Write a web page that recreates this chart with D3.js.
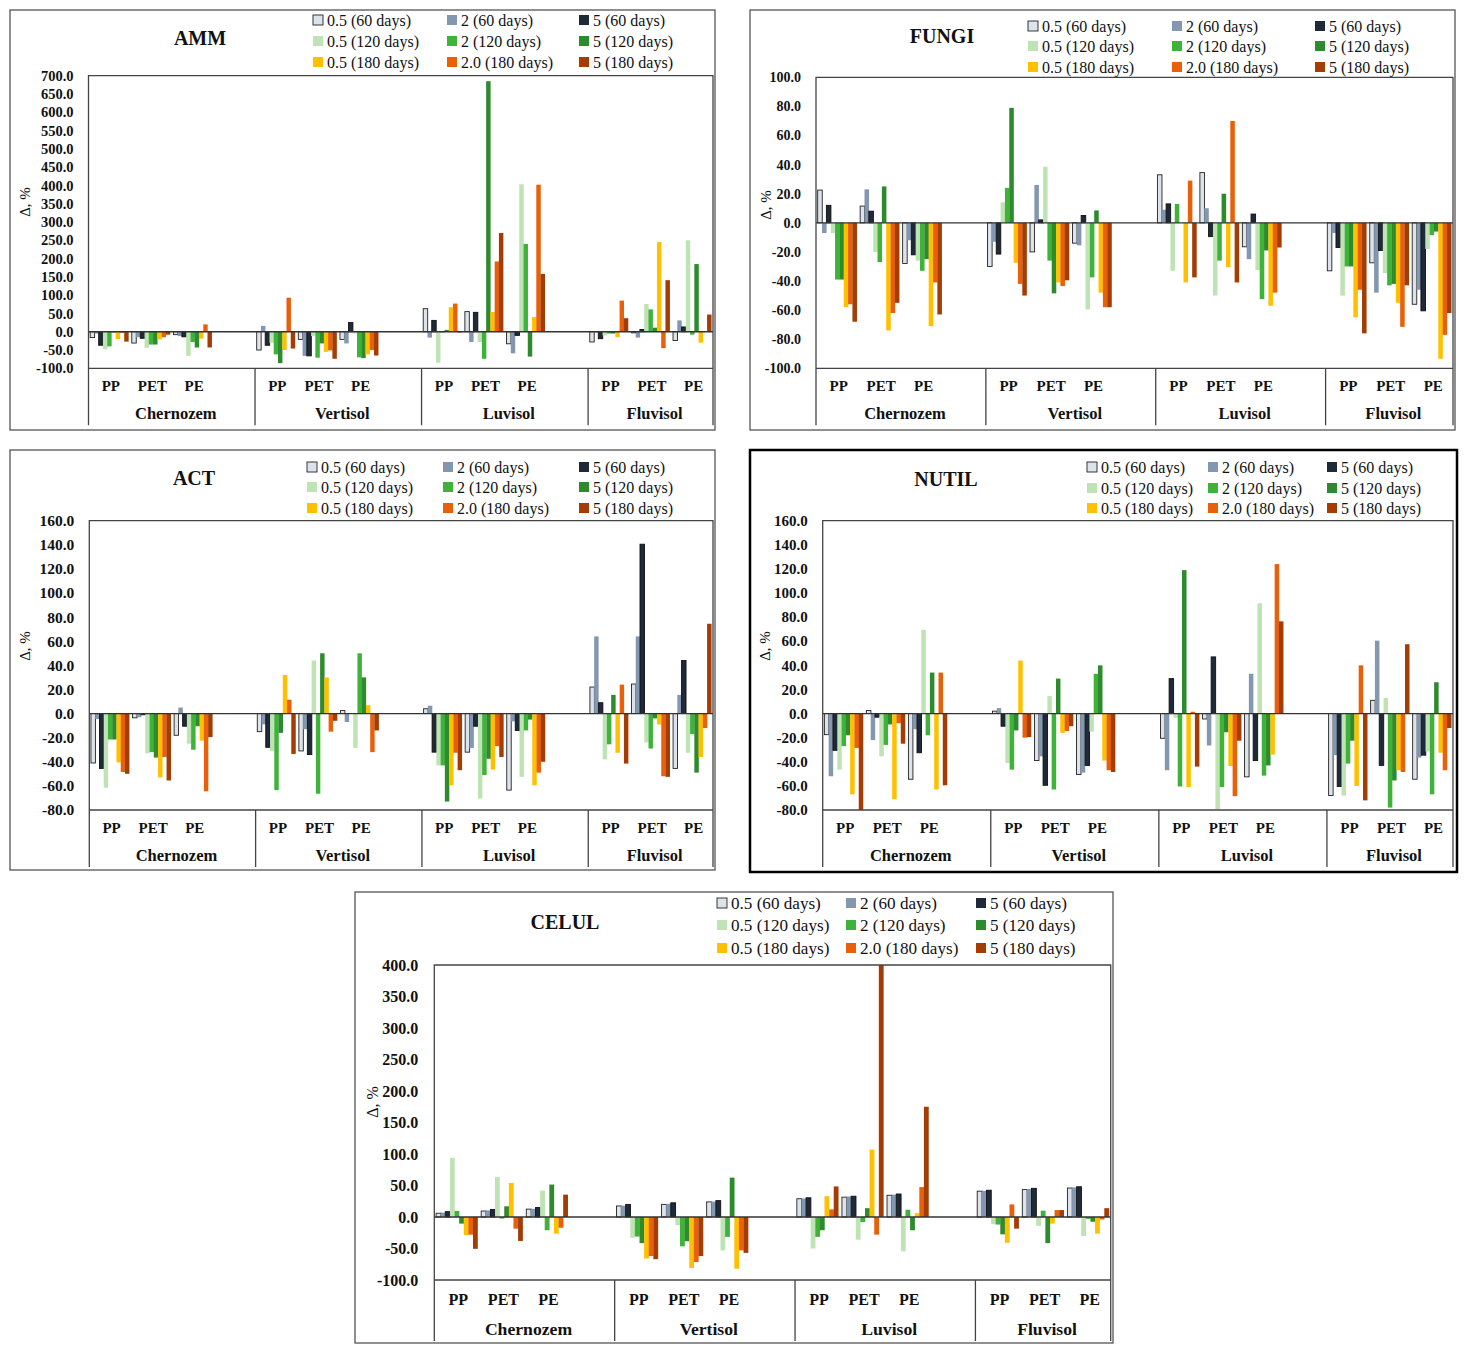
<!DOCTYPE html>
<html>
<head>
<meta charset="utf-8">
<script src="https://cdn.jsdelivr.net/npm/d3@7"></script>
<style>
  body { margin: 0; background: #fff; }
  svg { display: block; }
  text { font-family: "Palatino Linotype", "Book Antiqua", Palatino, "Liberation Serif", serif; fill: #111; }
</style>
</head>
<body>
<svg id="chart" width="1466" height="1353"></svg>
<script>
// categories
const soils = ["Chernozem", "Vertisol", "Luvisol", "Fluvisol"];
const plastics = ["PP", "PET", "PE"];
const seriesNames = ["0.5 (60 days)", "2 (60 days)", "5 (60 days)",
                     "0.5 (120 days)", "2 (120 days)", "5 (120 days)",
                     "0.5 (180 days)", "2.0 (180 days)", "5 (180 days)"];
const seriesColors = ["#dde3ea", "#8497b0", "#1f2a38",
                      "#bfe3b4", "#3fb23a", "#2d8a2d",
                      "#ffc000", "#e8600a", "#a33d05"];
const seriesStrokes = ["#222", null, "#111", null, null, null, null, null, null];

// values: one row per soil/plastic group (Chernozem PP, PET, PE, Vertisol PP ...), 9 series each
const ammValues = [
  [-16, -5, -37, -48, -40, -2, -20, -3, -27],
  [-31, -15, -18, -44, -35, -35, -21, -15, -8],
  [-8, -12, -14, -66, -28, -43, -19, 20, -43],
  [-50, 16, -37, -30, -62, -86, -50, 93, -46],
  [-21, -66, -66, -12, -71, -32, -55, -51, -74],
  [-21, -32, 25, -5, -70, -72, -62, -50, -65],
  [63, -16, 31, -85, -2, 5, 67, 77, -2],
  [55, -28, 53, -28, -74, 685, 54, 192, 270],
  [-33, -59, -10, 403, 240, -68, 40, 402, 158],
  [-28, -2, -19, -10, -5, -5, -15, 85, 37],
  [-3, -16, 6, 76, 61, 11, 245, -45, 141],
  [-24, 31, 13, 250, -8, 185, -30, 2, 47]
];
const fungiValues = [
  [22.5, -7, 12, -7, -39, -39, -58, -56, -68],
  [11.5, 23, 8, -20, -27, 25, -74, -62, -55],
  [-28, -12, -22, -26, -33, -25, -71, -41, -63],
  [-30, -13, -21.5, 14, 24, 79, -27.5, -42, -50],
  [-20, 26, 2, 38.5, -26, -48.5, -41, -43.5, -39.5],
  [-14, -15.5, 5, -59.5, -37.5, 8.5, -48, -58, -58],
  [33, 9, 13, -33, 13, 0, -41, 29, -37.5],
  [34.5, 10, -9.5, -50, -26, 20, -30.5, 70, -41],
  [-16.5, -25, 6, -32.5, -52.5, -19, -57, -48, -17],
  [-33, -7, -17, -50, -30, -30, -65, -46, -76],
  [-27.5, -48, -19, -34.5, -43, -42, -55, -71.5, -43],
  [-56, -46, -60.5, -18, -8.5, -6, -93.5, -77, -62]
];
const actValues = [
  [-41, -4.5, -45.5, -61.5, -21.5, -21.5, -40.5, -48.5, -50],
  [-3.5, -3, -1, -33, -32, -36.5, -53, -36, -55.5],
  [-18, 5, -10.5, -25, -30, -10.5, -22.5, -64.5, -19.5],
  [-15, -9, -28, -31, -63.5, -16, 32, 11.5, -33.5],
  [-31, -13, -34, 44, -66.5, 50, 30, -15, -6],
  [2.5, -7, 0, -28.5, 50, 30, 7, -32, -14],
  [4, 6.5, -32, -43, -43, -73, -59.5, -32.5, -47],
  [-32, -28.5, -10.5, -70.5, -51, -37.5, -46.5, -27, -36],
  [-63.5, -6.5, -14, -52.5, -14, -5, -59.5, -49, -40],
  [22, 64, 9, -38, -25.5, 15.5, -32.5, 24, -41.5],
  [24.5, 64, 140.5, -24, -29, -4, -9, -52, -52.5],
  [-45.5, 15.5, 44, -32.5, -17, -49, -36, -12, 74.5]
];
const nutilValues = [
  [-17.5, -52, -30.5, -46.5, -27, -18, -67, -28.5, -80],
  [2.5, -22, -3, -35.5, -26, -9, -71, -8, -25],
  [-54.5, -13, -32.5, 69.5, -18, 34, -63, 34, -59.5],
  [2, 4.5, -10.5, -41, -46.5, -14, 44, -20, -19.5],
  [-39, -35.5, -59.5, 14.5, -63, 29, -16, -14.5, -10.5],
  [-50.5, -49, -43, -15, 33, 40, -39, -47, -48.5],
  [-20.5, -47, 29, -3.5, -60.5, 119, -61, 1.5, -44],
  [-4.5, -26.5, 47, -79.5, -61, -15.5, -43.5, -68.5, -22.5],
  [-52.5, 33, -39, 91.5, -51.5, -43, -34, 124, 76.5],
  [-68, -34.5, -60.5, -68, -41.5, -22.5, -60, 40, -72],
  [11, 60.5, -43, 13, -78, -55.5, -47, -48.5, 57.5],
  [-54.5, -36.5, -34.5, -31.5, -67, 26, -32.5, -47, -12]
];
const celulValues = [
  [6, 7, 8.5, 94, 9.5, -10.5, -29, -28, -50.5],
  [9.5, 10.5, 12, 63.5, -2.5, 17, 54, -18.5, -38],
  [12.5, 13, 15, 42, -21, 51.5, -26.5, -17, 35.5],
  [17.5, 18, 20, -33, -31, -41.5, -66, -62, -67],
  [20, 21, 22.5, -13, -46.5, -38.5, -81, -71.5, -62],
  [24, 24.5, 26, -53, -31.5, 62.5, -82, -53, -57],
  [29, 29.5, 30.5, -50, -31.5, -21, 33, 12, 48.5],
  [31.5, 32.5, 33, -36, -8, 14, 107, -28, 420],
  [34.5, 35.5, 36.5, -54.5, 11.5, -21, 6, 47.5, 175],
  [41, 41.5, 42.5, -11.5, -12, -27.5, -41, 20, -18.5],
  [43.5, 44.5, 45.5, -14, 10, -41.5, -10.5, 11, 11],
  [46, 47, 48, -30, -3, -7.5, -26.5, -4, 14]
];

// tick labels
const ammTicks = [-100, -50, 0, 50, 100, 150, 200, 250, 300, 350, 400, 450, 500, 550, 600, 650, 700];
const fungiTicks = [-100, -80, -60, -40, -20, 0, 20, 40, 60, 80, 100];
const actTicks = [-80, -60, -40, -20, 0, 20, 40, 60, 80, 100, 120, 140, 160];
const nutilTicks = [-80, -60, -40, -20, 0, 20, 40, 60, 80, 100, 120, 140, 160];
const celulTicks = [-100, -50, 0, 50, 100, 150, 200, 250, 300, 350, 400];

// layout of the five panels (box and plot = [x0, y0, x1, y1])
const panels = [
  { title: "AMM", values: ammValues, ticks: ammTicks,
    box: [10, 10, 715, 430], plot: [88.5, 75.7, 713, 368.3], titleAt: [200, 45],
    legendX: [313, 447, 579], legendY: [20, 41, 62], deltaAt: [25, 202], tickSize: 14.5, k: 1 },
  { title: "FUNGI", values: fungiValues, ticks: fungiTicks,
    box: [750, 10, 1455, 430], plot: [816, 77.3, 1453, 368.3], titleAt: [942, 43],
    legendX: [1028, 1172, 1315], legendY: [26, 46, 67], deltaAt: [766, 205], tickSize: 14, k: 1 },
  { title: "ACT", values: actValues, ticks: actTicks,
    box: [10, 450, 715, 870], plot: [89.3, 520.7, 713, 810], titleAt: [194, 485],
    legendX: [307, 443, 579], legendY: [467, 487, 508], deltaAt: [25, 646], tickSize: 15.5, k: 1 },
  { title: "NUTIL", values: nutilValues, ticks: nutilTicks, thick: true,
    box: [750, 450, 1457, 872], plot: [822.7, 520.7, 1453, 810], titleAt: [946, 486],
    legendX: [1087, 1208, 1327], legendY: [467, 488, 508], deltaAt: [765, 646], tickSize: 15, k: 1 },
  { title: "CELUL", values: celulValues, ticks: celulTicks,
    box: [355, 892, 1113, 1343], plot: [434.3, 965, 1110.7, 1280], titleAt: [565, 929],
    legendX: [717, 846, 976], legendY: [903, 925, 948], deltaAt: [372, 1102], tickSize: 16, k: 1.07 }
];

// slots: 3 plastics per soil plus an empty slot between soils
const slotKeys = soils.flatMap((s, i) =>
  plastics.map(p => s + "|" + p).concat(i < soils.length - 1 ? [s + "|gap"] : []));

const svg = d3.select("#chart");
svg.append("rect").attr("width", 1466).attr("height", 1353).attr("fill", "#fff");

panels.forEach((p, pi) => {
  const [bx0, by0, bx1, by1] = p.box;
  const [px0, py0, px1, py1] = p.plot;
  const g = svg.append("g");

  // panel frame
  g.append("rect")
    .attr("x", bx0).attr("y", by0)
    .attr("width", bx1 - bx0).attr("height", by1 - by0)
    .attr("fill", "none")
    .attr("stroke", p.thick ? "#000" : "#555")
    .attr("stroke-width", p.thick ? 2.5 : 1.3);

  const x = d3.scaleBand().domain(slotKeys).range([px0, px1]);
  const inner = d3.scaleBand().domain(d3.range(seriesNames.length))
    .range([0, x.bandwidth()]).paddingOuter(0.39);
  const y = d3.scaleLinear().domain(d3.extent(p.ticks)).range([py1, py0]);

  const clipId = "clip" + pi;
  g.append("clipPath").attr("id", clipId)
    .append("rect").attr("x", px0).attr("y", py0).attr("width", px1 - px0).attr("height", py1 - py0);

  // bars
  const bars = [];
  p.values.forEach((row, gi) => {
    const key = soils[Math.floor(gi / 3)] + "|" + plastics[gi % 3];
    row.forEach((v, si) => bars.push({ key, si, v }));
  });
  g.append("g").attr("clip-path", `url(#${clipId})`)
    .selectAll("rect").data(bars).join("rect")
    .attr("x", d => x(d.key) + inner(d.si))
    .attr("width", inner.bandwidth() + 0.2)
    .attr("y", d => y(Math.max(0, d.v)))
    .attr("height", d => Math.abs(y(d.v) - y(0)))
    .attr("fill", d => seriesColors[d.si])
    .attr("stroke", d => seriesStrokes[d.si])
    .attr("stroke-width", 0.9);

  // zero line
  g.append("line")
    .attr("x1", px0).attr("x2", px1).attr("y1", y(0)).attr("y2", y(0))
    .attr("stroke", "#333").attr("stroke-width", 1.3);

  // plot frame
  const lineCol = "#444";
  const bottomExt = py1 + 57 * p.k;
  g.append("path")
    .attr("d", `M${px0},${bottomExt}V${py0}H${px1}V${bottomExt}M${px0},${py1}H${px1}`)
    .attr("fill", "none").attr("stroke", lineCol).attr("stroke-width", 1.3);

  // soil separators
  soils.slice(1).forEach(s => {
    const sx = x(s + "|PP");
    g.append("line").attr("x1", sx).attr("x2", sx).attr("y1", py1).attr("y2", bottomExt)
      .attr("stroke", lineCol).attr("stroke-width", 1.3);
  });

  // y tick labels (plain hyphen for negatives, as in the original)
  g.append("g").selectAll("text").data(p.ticks).join("text")
    .attr("x", px0 - 15 * p.k).attr("y", d => y(d)).attr("dy", "0.35em")
    .attr("text-anchor", "end")
    .attr("font-size", p.tickSize).attr("font-weight", "bold")
    .text(d => d.toFixed(1));

  // category labels
  soils.forEach((s, si) => {
    plastics.forEach(pl => {
      g.append("text")
        .attr("x", x(s + "|" + pl) + x.bandwidth() / 2 + 1.5).attr("y", py1 + 23 * p.k)
        .attr("text-anchor", "middle").attr("font-size", 15 * p.k).attr("font-weight", "bold")
        .text(pl);
    });
    const sx0 = x(s + "|PP");
    const sx1 = si < soils.length - 1 ? x(soils[si + 1] + "|PP") : px1;
    g.append("text")
      .attr("x", (sx0 + sx1) / 2 + 4).attr("y", py1 + 51 * p.k)
      .attr("text-anchor", "middle").attr("font-size", 16.5 * p.k).attr("font-weight", "bold")
      .text(s);
  });

  // axis title
  g.append("text")
    .attr("transform", `translate(${p.deltaAt[0]},${p.deltaAt[1]}) rotate(-90)`)
    .attr("text-anchor", "middle").attr("dy", "0.35em").attr("font-size", 15 * p.k)
    .text("Δ, %");

  // chart title
  g.append("text")
    .attr("x", p.titleAt[0]).attr("y", p.titleAt[1])
    .attr("text-anchor", "middle").attr("font-size", 20).attr("font-weight", "bold")
    .text(p.title);

  // legend
  const lg = g.append("g").selectAll("g").data(seriesNames).join("g")
    .attr("transform", (d, i) => `translate(${p.legendX[i % 3]},${p.legendY[Math.floor(i / 3)]})`);
  lg.append("rect")
    .attr("x", 0).attr("y", -5).attr("width", 10).attr("height", 10)
    .attr("fill", (d, i) => seriesColors[i])
    .attr("stroke", (d, i) => i === 0 ? "#222" : null).attr("stroke-width", 0.9);
  lg.append("text")
    .attr("x", 14).attr("dy", "0.35em").attr("font-size", 16 * p.k)
    .text(d => d);
});
</script>
</body>
</html>
